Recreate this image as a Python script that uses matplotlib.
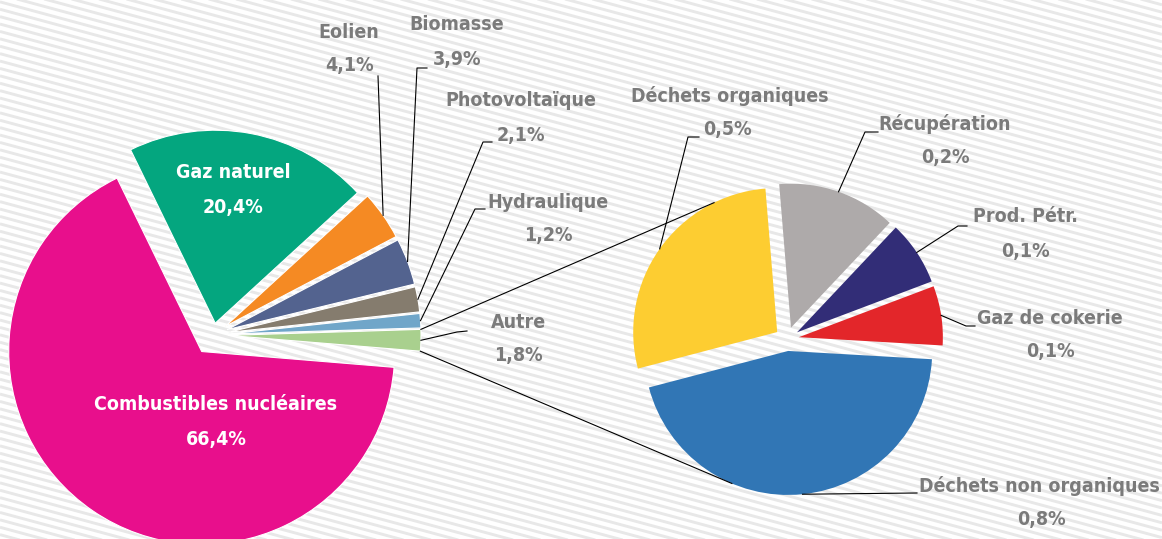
import numpy as np
import matplotlib.pyplot as plt

W, H = 1162, 539

# premier camembert (sens trigo, en partant de "Autre")
main_labels = ['Autre', 'Hydraulique', 'Photovoltaïque', 'Biomasse', 'Eolien',
               'Gaz naturel', 'Combustibles nucléaires']
main_values = [1.8, 1.2, 2.1, 3.9, 4.1, 20.4, 66.4]
main_colors = ['#a9d08e', '#70a6c9', '#857c6e', '#53638f', '#f58a23', '#04a67f', '#e80f8c']

# detail de "Autre" (parts estimees sur les angles)
sub_labels = ['Gaz de cokerie', 'Prod. Pétr.', 'Récupération', 'Déchets organiques',
              'Déchets non organiques']
sub_values = [0.12, 0.13, 0.24, 0.50, 0.81]
sub_colors = ['#e3262a', '#322d77', '#aeaaaa', '#fdcd31', '#3176b5']

FONT = ['DejaVu Sans']
GREY = '#7b7b7b'
TXT = dict(fontsize=14, fontweight='bold', family=FONT, fontstretch='condensed',
           ha='center', va='center', zorder=4)


def pct(v):
    return f'{v:.1f}'.replace('.', ',') + '%'


def img(x, y):
    # position en pixels image -> coordonnees axes (y vers le haut)
    return x, H - y


def arc_pt(w, ang):
    cx, cy = w.center
    a = np.radians(ang)
    return cx + w.r * np.cos(a), cy + w.r * np.sin(a)


fig = plt.figure(figsize=(W / 100, H / 100), dpi=100)
ax = fig.add_axes([0, 0, 1, 1])

# fond raye
xs = np.array([0, W])
for c in np.arange(-0.27 * W - 10, H + 10, 7.4):
    ax.plot(xs, H - (c + 0.27 * xs), color='#e8e8e8', lw=2.1, zorder=0,
            solid_capstyle='butt')

main_explode = [15, 15, 15, 15, 15, 12, 20]
wl, _ = ax.pie(main_values, colors=main_colors, startangle=-4.7, radius=193,
               center=img(213, 335), explode=main_explode,
               wedgeprops=dict(edgecolor='white', linewidth=0.8))

sub_explode = [12] * len(sub_values)
wr, _ = ax.pie(sub_values, colors=sub_colors, startangle=-3.3, radius=144,
               center=img(787, 339), explode=sub_explode,
               wedgeprops=dict(linewidth=0))

for w in wl + wr:
    w.set_zorder(2)

# traits reliant "Autre" au second camembert
autre = wl[0]
top = arc_pt(autre, autre.theta2)
bot = arc_pt(autre, autre.theta1)
ax.plot([top[0], arc_pt(wr[3], 116)[0]], [top[1], arc_pt(wr[3], 116)[1]],
        color='black', lw=0.8, zorder=3)
ax.plot([bot[0], arc_pt(wr[4], 247)[0]], [bot[1], arc_pt(wr[4], 247)[1]],
        color='black', lw=0.8, zorder=3)

# etiquettes exterieures : position du nom, du %, debut et coude du trait
layout = {
    'Eolien': ((349, 33), (349, 66), (378, 76), (378, 76)),
    'Biomasse': ((457, 25), (457, 60), (427, 68), (417, 68)),
    'Photovoltaïque': ((521, 101), (521, 135), (492, 142), (483, 142)),
    'Hydraulique': ((548, 202), (548, 235), (485, 209), (475, 209)),
    'Autre': ((518, 323), (518, 356), (467, 331), (457, 332)),
    'Déchets organiques': ((730, 96), (727, 129), (699, 137), (688, 137)),
    'Récupération': ((945, 124), (945, 158), (878, 132), (865, 132)),
    'Prod. Pétr.': ((1025, 217), (1025, 251), (967, 226), (958, 226)),
    'Gaz de cokerie': ((1050, 318), (1050, 351), (975, 326), (966, 326)),
    'Déchets non organiques': ((1039, 486), (1041, 520), (917, 493), (917, 493)),
}

items = list(zip(main_labels, main_values, wl)) + list(zip(sub_labels, sub_values, wr))
for name, val, w in items:
    if name not in layout:
        continue
    p_name, p_pct, p0, p1 = layout[name]
    ax.text(*img(*p_name), name, color=GREY, **TXT)
    ax.text(*img(*p_pct), pct(val), color=GREY, **TXT)
    end = arc_pt(w, (w.theta1 + w.theta2) / 2)
    pts = [img(*p0), img(*p1), end]
    ax.plot([p[0] for p in pts], [p[1] for p in pts], color='black', lw=0.8, zorder=3)

# etiquettes dans les grandes parts
inside = {'Gaz naturel': (233, 172, 208), 'Combustibles nucléaires': (216, 404, 440)}
for name, val in zip(main_labels, main_values):
    if name in inside:
        x, y1, y2 = inside[name]
        ax.text(*img(x, y1), name, color='white', **TXT)
        ax.text(*img(x, y2), pct(val), color='white', **TXT)

ax.set_xlim(0, W)
ax.set_ylim(0, H)
ax.set_axis_off()

plt.savefig('out.png', dpi=100)
